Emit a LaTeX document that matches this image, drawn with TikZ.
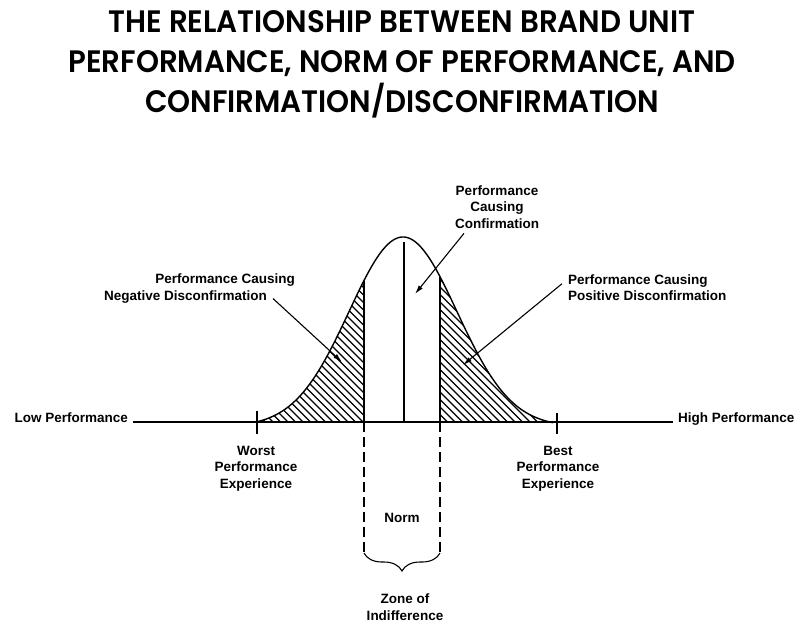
\documentclass[tikz,border=0pt]{standalone}
\usepackage{fontspec}
\setmainfont{Liberation Sans}
\newfontfamily\titlefont{Poppins}[BoldFont={Poppins SemiBold}, FakeStretch=0.945]
\usetikzlibrary{arrows.meta, positioning, decorations.pathreplacing}

\begin{document}
\begin{tikzpicture}[x=1pt, y=-1pt,
		declare function={bell(\x)=422-185*(exp(-0.5*((\x-403)/54)^2)-0.0246)/0.9754;},
		note/.style = {font=\bfseries\fontsize{13.5}{16.5}\selectfont, inner sep=0pt, align=center},
		pointer/.style = {line width=1.1pt, -{Latex[length=9pt,width=5pt]}},
		hatch/.style = {line width=1.2pt},
		guide/.style = {line width=1.1pt, dash pattern=on 10pt off 5pt}
		]
		\useasboundingbox (0,0) rectangle (794,622);
		
		% heading
		\node (title) [font=\titlefont\bfseries\fontsize{31}{40}\selectfont, align=center, anchor=north, inner sep=0pt] at (402,10)
			{THE RELATIONSHIP BETWEEN BRAND UNIT\\PERFORMANCE, NORM OF PERFORMANCE, AND\\CONFIRMATION/DISCONFIRMATION};
		
		% hatched tails
		\begin{scope}
			\clip (258,422) -- plot[domain=258:364, samples=60] (\x,{bell(\x)}) -- (364,422) -- cycle;
			\foreach \k in {258,265.5,...,580} \draw[hatch] (\k,422) -- ++(-200,-200);
		\end{scope}
		\begin{scope}
			\clip (440,422) -- plot[domain=440:553, samples=60] (\x,{bell(\x)}) -- (553,422) -- cycle;
			\foreach \k in {440,447.5,...,760} \draw[hatch] (\k,422) -- ++(-200,-200);
		\end{scope}
		
		% curve, norm line and zone edges
		\draw[line width=1.4pt] plot[domain=258:553, samples=150] (\x,{bell(\x)});
		\draw[line width=1.3pt] (404,242) -- (404,422);
		\draw[line width=1.1pt] (364,{bell(364)}) -- (364,422);
		\draw[line width=1.1pt] (440,{bell(440)}) -- (440,422);
		
		% axis
		\node (low) [note, anchor=base east] at (128,422) {Low Performance};
		\node (high) [note, anchor=base west] at (678,422) {High Performance};
		\coordinate (axL) at (133,422);
		\coordinate (axR) at (673,422);
		\draw[line width=1.1pt] (axL) -- (axR);
		\draw[line width=1.3pt] (257,411) -- (257,434);
		\draw[line width=1.3pt] (557,413) -- (557,434);
		
		% multi-line notes sit on their last baseline
		\node (worst) [note, anchor=base] at (256,488) {Worst\\Performance\\Experience};
		\node (best) [note, anchor=base] at (558,488) {Best\\Performance\\Experience};
		
		% zone of indifference
		\coordinate (cutL) at (364,422);
		\coordinate (cutR) at (440,422);
		\coordinate (zoneL) at (364,553);
		\coordinate (zoneR) at (440,553);
		\draw[guide] (cutL) -- (zoneL);
		\draw[guide] (cutR) -- (zoneR);
		\draw[line width=1.1pt, decorate, decoration={brace, mirror, amplitude=18pt}] (zoneL) -- (zoneR);
		\node (norm) [note] at (402,518) {Norm};
		\node (zone) [note, anchor=base] at (405,620) {Zone of\\Indifference};
		
		% pointers
		\node (conf) [note, anchor=base] at (497,228) {Performance\\Causing\\Confirmation};
		\node (negA) [note, anchor=base east] at (295,283) {Performance Causing};
		\node (negB) [note, anchor=base east] at (267,300) {Negative Disconfirmation};
		\node (posA) [note, anchor=base west] at (568,284) {Performance Causing};
		\node (posB) [note, below=3.5pt of posA.south west, anchor=north west] {Positive Disconfirmation};
		\coordinate (confTip) at (415,294);
		\coordinate (negTip) at (342,362);
		\coordinate (posTip) at (463,365);
		\draw[pointer] ([shift={(-33,5)}]conf.south) -- (confTip);
		\draw[pointer] ([shift={(6,2)}]negB.east) -- (negTip);
		\draw[pointer] ([shift={(-6,-12)}]posB.west) -- (posTip);
	\end{tikzpicture}
\end{document}
